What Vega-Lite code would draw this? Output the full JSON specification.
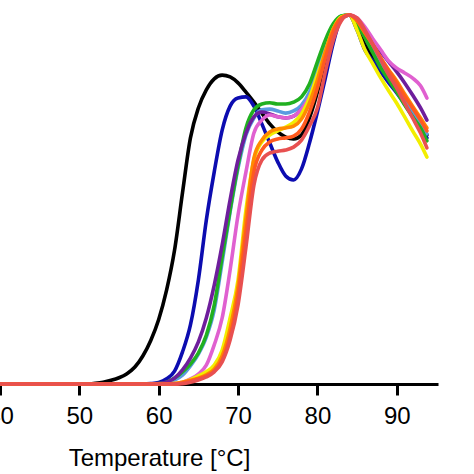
{
  "$schema": "https://vega.github.io/schema/vega-lite/v6.json",
  "width": 438,
  "height": 369,
  "autosize": "none",
  "padding": {"left": 0, "top": 15, "right": 36, "bottom": 90},
  "background": "white",
  "config": {"view": {"stroke": null}},
  "datasets": {
    "curves": [
      {"s":"A","t":40,"v":0},{"s":"A","t":51,"v":0},{"s":"A","t":52,"v":0.2},{"s":"A","t":53,"v":0.5},{"s":"A","t":54,"v":1.0},{"s":"A","t":55,"v":1.7},{"s":"A","t":56,"v":2.8},{"s":"A","t":57,"v":4.6},{"s":"A","t":58,"v":7.6},{"s":"A","t":59,"v":11.8},{"s":"A","t":60,"v":17.5},{"s":"A","t":61,"v":25.5},{"s":"A","t":62,"v":36.3},{"s":"A","t":63,"v":51.8},{"s":"A","t":64,"v":66.7},{"s":"A","t":65,"v":74.8},{"s":"A","t":66,"v":79.7},{"s":"A","t":67,"v":82.7},{"s":"A","t":68,"v":83.7},{"s":"A","t":69,"v":83.2},{"s":"A","t":70,"v":81.6},{"s":"A","t":71,"v":79.1},{"s":"A","t":72,"v":76.4},{"s":"A","t":73,"v":73.4},{"s":"A","t":74,"v":70.5},{"s":"A","t":75,"v":68.3},{"s":"A","t":76,"v":66.9},{"s":"A","t":77,"v":66.4},{"s":"A","t":78,"v":67.5},{"s":"A","t":79,"v":72.1},{"s":"A","t":80,"v":79.1},{"s":"A","t":81,"v":87.8},{"s":"A","t":82,"v":95.4},{"s":"A","t":83,"v":99.5},{"s":"A","t":84,"v":100},{"s":"A","t":85,"v":96.5},{"s":"A","t":86,"v":91.9},{"s":"A","t":87,"v":88.6},{"s":"A","t":88,"v":85.6},{"s":"A","t":89,"v":82.4},{"s":"A","t":90,"v":79.4},{"s":"A","t":91,"v":76.4},{"s":"A","t":92,"v":73.4},{"s":"A","t":93,"v":70.5},{"s":"A","t":93.8,"v":67.5},

      {"s":"B","t":40,"v":0},{"s":"B","t":58,"v":0},{"s":"B","t":59,"v":0.1},{"s":"B","t":60,"v":0.4},{"s":"B","t":61,"v":1.4},{"s":"B","t":62,"v":3.5},{"s":"B","t":63,"v":8.7},{"s":"B","t":64,"v":16.0},{"s":"B","t":65,"v":28.2},{"s":"B","t":66,"v":44.4},{"s":"B","t":67,"v":57.5},{"s":"B","t":68,"v":68.8},{"s":"B","t":69,"v":75.3},{"s":"B","t":70,"v":77.5},{"s":"B","t":71,"v":77.8},{"s":"B","t":72,"v":75.3},{"s":"B","t":73,"v":70.5},{"s":"B","t":74,"v":65.3},{"s":"B","t":75,"v":60.2},{"s":"B","t":76,"v":56.4},{"s":"B","t":77,"v":55.3},{"s":"B","t":78,"v":58.3},{"s":"B","t":79,"v":65.3},{"s":"B","t":80,"v":73.7},{"s":"B","t":81,"v":82.9},{"s":"B","t":82,"v":92.4},{"s":"B","t":83,"v":98.9},{"s":"B","t":84,"v":100},{"s":"B","t":85,"v":95.9},{"s":"B","t":86,"v":90.5},{"s":"B","t":87,"v":87.5},{"s":"B","t":88,"v":84.6},{"s":"B","t":89,"v":81.6},{"s":"B","t":90,"v":78.9},{"s":"B","t":91,"v":75.9},{"s":"B","t":92,"v":72.6},{"s":"B","t":93,"v":69.6},{"s":"B","t":93.8,"v":66.7},

      {"s":"C","t":40,"v":0},{"s":"C","t":60,"v":0},{"s":"C","t":61,"v":0.3},{"s":"C","t":62,"v":1.1},{"s":"C","t":63,"v":2.4},{"s":"C","t":64,"v":4.9},{"s":"C","t":65,"v":8.1},{"s":"C","t":66,"v":12.7},{"s":"C","t":67,"v":20.1},{"s":"C","t":68,"v":33.1},{"s":"C","t":69,"v":46.6},{"s":"C","t":70,"v":58.5},{"s":"C","t":71,"v":67.5},{"s":"C","t":72,"v":72.1},{"s":"C","t":73,"v":74.3},{"s":"C","t":74,"v":74.5},{"s":"C","t":75,"v":74.0},{"s":"C","t":76,"v":73.4},{"s":"C","t":77,"v":74.0},{"s":"C","t":78,"v":75.6},{"s":"C","t":79,"v":79.1},{"s":"C","t":80,"v":85.1},{"s":"C","t":81,"v":91.9},{"s":"C","t":82,"v":97.0},{"s":"C","t":83,"v":99.7},{"s":"C","t":84,"v":100},{"s":"C","t":85,"v":98.1},{"s":"C","t":86,"v":94.6},{"s":"C","t":87,"v":90.8},{"s":"C","t":88,"v":87.0},{"s":"C","t":89,"v":83.5},{"s":"C","t":90,"v":80.2},{"s":"C","t":91,"v":77.0},{"s":"C","t":92,"v":73.7},{"s":"C","t":93,"v":70.7},{"s":"C","t":93.8,"v":67.8},

      {"s":"D","t":40,"v":0},{"s":"D","t":59,"v":0},{"s":"D","t":60,"v":0.1},{"s":"D","t":61,"v":0.5},{"s":"D","t":62,"v":1.6},{"s":"D","t":63,"v":3.3},{"s":"D","t":64,"v":5.4},{"s":"D","t":65,"v":8.4},{"s":"D","t":66,"v":13.2},{"s":"D","t":67,"v":21.4},{"s":"D","t":68,"v":34.5},{"s":"D","t":69,"v":47.2},{"s":"D","t":70,"v":59.3},{"s":"D","t":71,"v":69.4},{"s":"D","t":72,"v":74.3},{"s":"D","t":73,"v":75.9},{"s":"D","t":74,"v":76.2},{"s":"D","t":75,"v":75.9},{"s":"D","t":76,"v":75.9},{"s":"D","t":77,"v":76.4},{"s":"D","t":78,"v":77.8},{"s":"D","t":79,"v":81.3},{"s":"D","t":80,"v":87.3},{"s":"D","t":81,"v":93.2},{"s":"D","t":82,"v":97.6},{"s":"D","t":83,"v":99.7},{"s":"D","t":84,"v":100},{"s":"D","t":85,"v":97.6},{"s":"D","t":86,"v":93.8},{"s":"D","t":87,"v":89.7},{"s":"D","t":88,"v":85.6},{"s":"D","t":89,"v":82.4},{"s":"D","t":90,"v":79.1},{"s":"D","t":91,"v":75.6},{"s":"D","t":92,"v":72.4},{"s":"D","t":93,"v":69.4},{"s":"D","t":93.8,"v":65.9},

      {"s":"E","t":40,"v":0},{"s":"E","t":59,"v":0},{"s":"E","t":60,"v":0.1},{"s":"E","t":61,"v":0.5},{"s":"E","t":62,"v":1.6},{"s":"E","t":63,"v":3.8},{"s":"E","t":64,"v":7.0},{"s":"E","t":65,"v":11.4},{"s":"E","t":66,"v":17.9},{"s":"E","t":67,"v":26.8},{"s":"E","t":68,"v":37.7},{"s":"E","t":69,"v":49.9},{"s":"E","t":70,"v":60.7},{"s":"E","t":71,"v":68.0},{"s":"E","t":72,"v":72.4},{"s":"E","t":73,"v":73.7},{"s":"E","t":74,"v":73.2},{"s":"E","t":75,"v":72.4},{"s":"E","t":76,"v":72.1},{"s":"E","t":77,"v":72.6},{"s":"E","t":78,"v":74.5},{"s":"E","t":79,"v":77.5},{"s":"E","t":80,"v":82.4},{"s":"E","t":81,"v":89.2},{"s":"E","t":82,"v":95.4},{"s":"E","t":83,"v":99.2},{"s":"E","t":84,"v":100},{"s":"E","t":85,"v":98.9},{"s":"E","t":86,"v":96.2},{"s":"E","t":87,"v":93.0},{"s":"E","t":88,"v":90.0},{"s":"E","t":89,"v":87.3},{"s":"E","t":90,"v":84.6},{"s":"E","t":91,"v":81.6},{"s":"E","t":92,"v":78.3},{"s":"E","t":93,"v":74.8},{"s":"E","t":93.8,"v":71.5},

      {"s":"F","t":40,"v":0},{"s":"F","t":61,"v":0},{"s":"F","t":62,"v":0.1},{"s":"F","t":63,"v":0.5},{"s":"F","t":64,"v":1.4},{"s":"F","t":65,"v":2.7},{"s":"F","t":66,"v":5.1},{"s":"F","t":67,"v":10.6},{"s":"F","t":68,"v":17.9},{"s":"F","t":69,"v":30.9},{"s":"F","t":70,"v":45.8},{"s":"F","t":71,"v":57.5},{"s":"F","t":72,"v":68.0},{"s":"F","t":73,"v":71.5},{"s":"F","t":74,"v":72.9},{"s":"F","t":75,"v":72.4},{"s":"F","t":76,"v":72.1},{"s":"F","t":77,"v":72.6},{"s":"F","t":78,"v":74.5},{"s":"F","t":79,"v":77.8},{"s":"F","t":80,"v":82.9},{"s":"F","t":81,"v":89.4},{"s":"F","t":82,"v":95.7},{"s":"F","t":83,"v":99.2},{"s":"F","t":84,"v":100},{"s":"F","t":85,"v":99.2},{"s":"F","t":86,"v":96.7},{"s":"F","t":87,"v":93.5},{"s":"F","t":88,"v":90.5},{"s":"F","t":89,"v":87.5},{"s":"F","t":90,"v":85.6},{"s":"F","t":91,"v":84.3},{"s":"F","t":92,"v":82.9},{"s":"F","t":93,"v":80.8},{"s":"F","t":93.8,"v":77.5},

      {"s":"G","t":40,"v":0},{"s":"G","t":61,"v":0},{"s":"G","t":62,"v":0.1},{"s":"G","t":63,"v":0.5},{"s":"G","t":64,"v":1.2},{"s":"G","t":65,"v":2.2},{"s":"G","t":66,"v":3.3},{"s":"G","t":67,"v":5.1},{"s":"G","t":68,"v":9.2},{"s":"G","t":69,"v":17.9},{"s":"G","t":70,"v":28.2},{"s":"G","t":71,"v":47.2},{"s":"G","t":72,"v":60.7},{"s":"G","t":73,"v":65.6},{"s":"G","t":74,"v":67.5},{"s":"G","t":75,"v":68.6},{"s":"G","t":76,"v":69.6},{"s":"G","t":77,"v":70.9},{"s":"G","t":78,"v":73.2},{"s":"G","t":79,"v":77.5},{"s":"G","t":80,"v":83.7},{"s":"G","t":81,"v":90.0},{"s":"G","t":82,"v":96.2},{"s":"G","t":83,"v":99.5},{"s":"G","t":84,"v":100},{"s":"G","t":85,"v":95.9},{"s":"G","t":86,"v":90.5},{"s":"G","t":87,"v":86.7},{"s":"G","t":88,"v":82.9},{"s":"G","t":89,"v":79.4},{"s":"G","t":90,"v":76.1},{"s":"G","t":91,"v":72.4},{"s":"G","t":92,"v":68.6},{"s":"G","t":93,"v":65.0},{"s":"G","t":93.8,"v":61.5},

      {"s":"H","t":40,"v":0},{"s":"H","t":61,"v":0},{"s":"H","t":62,"v":0.1},{"s":"H","t":63,"v":0.5},{"s":"H","t":64,"v":1.0},{"s":"H","t":65,"v":1.6},{"s":"H","t":66,"v":2.5},{"s":"H","t":67,"v":4.0},{"s":"H","t":68,"v":7.6},{"s":"H","t":69,"v":15.0},{"s":"H","t":70,"v":26.5},{"s":"H","t":71,"v":45.0},{"s":"H","t":72,"v":61.2},{"s":"H","t":73,"v":66.1},{"s":"H","t":74,"v":68.3},{"s":"H","t":75,"v":69.1},{"s":"H","t":76,"v":69.4},{"s":"H","t":77,"v":69.9},{"s":"H","t":78,"v":71.8},{"s":"H","t":79,"v":76.2},{"s":"H","t":80,"v":82.4},{"s":"H","t":81,"v":90.0},{"s":"H","t":82,"v":96.2},{"s":"H","t":83,"v":99.2},{"s":"H","t":84,"v":100},{"s":"H","t":85,"v":98.4},{"s":"H","t":86,"v":95.1},{"s":"H","t":87,"v":91.9},{"s":"H","t":88,"v":88.3},{"s":"H","t":89,"v":85.1},{"s":"H","t":90,"v":82.1},{"s":"H","t":91,"v":78.6},{"s":"H","t":92,"v":75.3},{"s":"H","t":93,"v":72.1},{"s":"H","t":93.8,"v":69.4},

      {"s":"I","t":40,"v":0},{"s":"I","t":62,"v":0},{"s":"I","t":63,"v":0.3},{"s":"I","t":64,"v":0.8},{"s":"I","t":65,"v":1.4},{"s":"I","t":66,"v":2.2},{"s":"I","t":67,"v":3.5},{"s":"I","t":68,"v":6.5},{"s":"I","t":69,"v":13.0},{"s":"I","t":70,"v":24.0},{"s":"I","t":71,"v":41.2},{"s":"I","t":72,"v":57.5},{"s":"I","t":73,"v":63.4},{"s":"I","t":74,"v":65.6},{"s":"I","t":75,"v":66.4},{"s":"I","t":76,"v":66.7},{"s":"I","t":77,"v":67.2},{"s":"I","t":78,"v":69.1},{"s":"I","t":79,"v":73.7},{"s":"I","t":80,"v":80.2},{"s":"I","t":81,"v":88.3},{"s":"I","t":82,"v":95.4},{"s":"I","t":83,"v":99.2},{"s":"I","t":84,"v":100},{"s":"I","t":85,"v":98.6},{"s":"I","t":86,"v":95.4},{"s":"I","t":87,"v":91.9},{"s":"I","t":88,"v":88.3},{"s":"I","t":89,"v":84.8},{"s":"I","t":90,"v":81.6},{"s":"I","t":91,"v":78.0},{"s":"I","t":92,"v":74.8},{"s":"I","t":93,"v":71.5},{"s":"I","t":93.8,"v":68.6},

      {"s":"J","t":40,"v":0},{"s":"J","t":62,"v":0},{"s":"J","t":63,"v":0.1},{"s":"J","t":64,"v":0.5},{"s":"J","t":65,"v":1.1},{"s":"J","t":66,"v":1.9},{"s":"J","t":67,"v":3.3},{"s":"J","t":68,"v":6.0},{"s":"J","t":69,"v":11.9},{"s":"J","t":70,"v":21.4},{"s":"J","t":71,"v":37.1},{"s":"J","t":72,"v":53.9},{"s":"J","t":73,"v":60.7},{"s":"J","t":74,"v":62.6},{"s":"J","t":75,"v":63.1},{"s":"J","t":76,"v":63.4},{"s":"J","t":77,"v":64.2},{"s":"J","t":78,"v":66.1},{"s":"J","t":79,"v":69.9},{"s":"J","t":80,"v":74.8},{"s":"J","t":81,"v":84.6},{"s":"J","t":82,"v":93.2},{"s":"J","t":83,"v":98.4},{"s":"J","t":84,"v":100},{"s":"J","t":85,"v":99.2},{"s":"J","t":86,"v":95.9},{"s":"J","t":87,"v":91.9},{"s":"J","t":88,"v":87.8},{"s":"J","t":89,"v":83.7},{"s":"J","t":90,"v":80.2},{"s":"J","t":91,"v":76.1},{"s":"J","t":92,"v":72.1},{"s":"J","t":93,"v":68.0},{"s":"J","t":93.8,"v":64.0}
    ]
  },
  "data": {"name": "curves"},
  "mark": {"type": "line", "strokeWidth": 3.6, "interpolate": "monotone", "strokeJoin": "round", "strokeCap": "round"},
  "encoding": {
    "x": {
      "field": "t", "type": "quantitative",
      "scale": {"domain": [40, 95.2], "nice": false, "zero": false},
      "axis": {
        "values": [40, 50, 60, 70, 80, 90],
        "title": "Temperature [°C]",
        "grid": false,
        "domainColor": "black", "domainWidth": 3,
        "tickColor": "black", "tickWidth": 3, "tickSize": 11,
        "labelFont": "Liberation Sans", "labelFontSize": 24, "labelColor": "black",
        "labelBaseline": "alphabetic", "labelPadding": 28,
        "labelFlush": false, "labelOverlap": false, "labelBound": false,
        "titleFont": "Liberation Sans", "titleFontSize": 24, "titleFontWeight": "normal", "titleColor": "black",
        "titleX": 159, "titleY": 81, "titleBaseline": "alphabetic", "titleAlign": "center"
      }
    },
    "y": {
      "field": "v", "type": "quantitative",
      "scale": {"domain": [0, 100], "nice": false},
      "axis": null
    },
    "color": {
      "field": "s", "type": "nominal",
      "scale": {
        "domain": ["A","B","C","D","E","F","G","H","I","J"],
        "range": ["#000000","#0c0cb0","#5a9be0","#20b020","#6e1e9c","#e060d0","#f2ee00","#ff8a00","#ff5a1f","#e85050"]
      },
      "legend": null
    },
    "order": {"field": "t", "type": "quantitative"}
  }
}
